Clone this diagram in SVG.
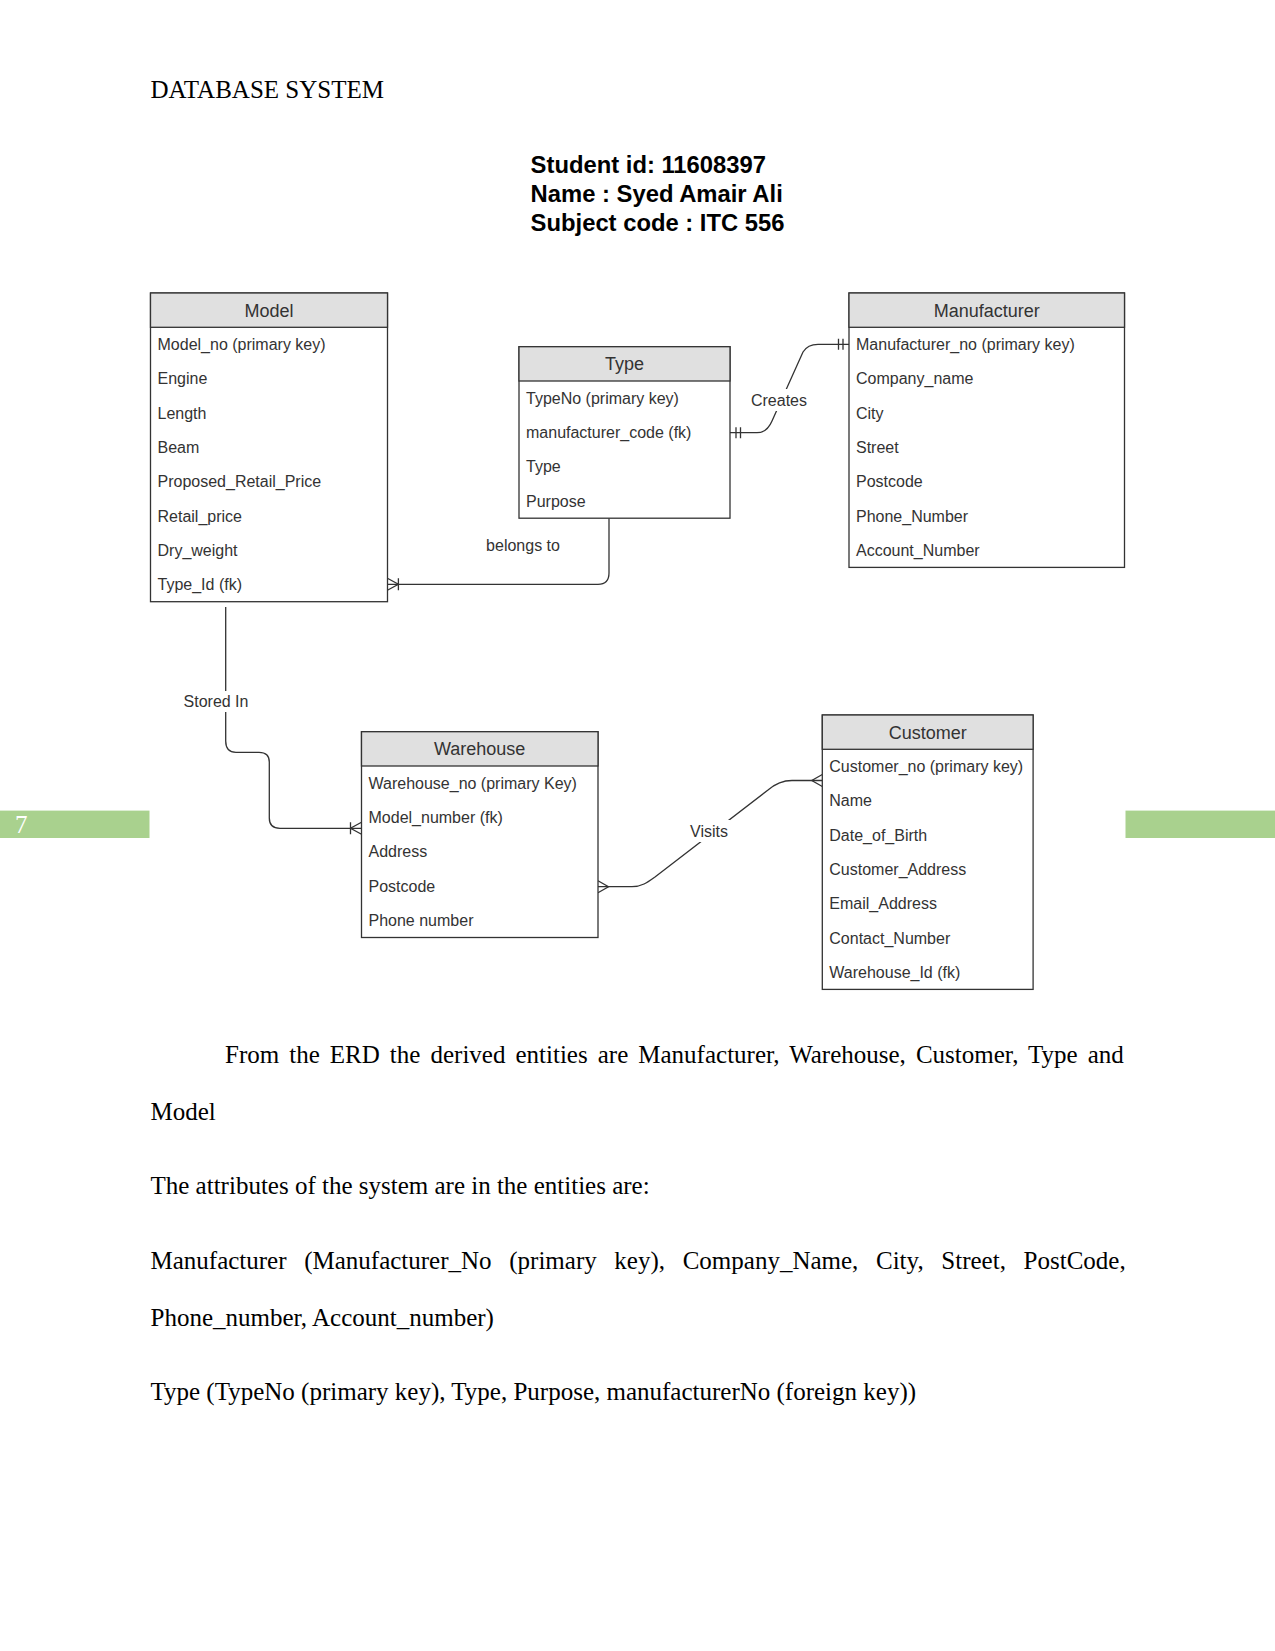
<svg xmlns="http://www.w3.org/2000/svg" width="1275" height="1651" viewBox="0 0 1275 1651">
<style>
.page{fill:#fff}
.box{fill:#fff;stroke:#333;stroke-width:1.3}
.hdr{fill:#e0e0e0;stroke:#333;stroke-width:1.3}
.ht{font-family:"Liberation Sans",Arial,sans-serif;font-size:18px;fill:#333;text-anchor:middle}
.rt{font-family:"Liberation Sans",Arial,sans-serif;font-size:16px;fill:#333}
.lbl{font-family:"Liberation Sans",Arial,sans-serif;font-size:16px;fill:#333;text-anchor:middle}
.conn{fill:none;stroke:#333;stroke-width:1.3}
.body{font-family:"Liberation Serif","Times New Roman",serif;font-size:25px;fill:#000}
.title{font-family:"Liberation Sans",Arial,sans-serif;font-size:23.8px;font-weight:bold;fill:#000}
.bar{fill:#a9d18e}
</style>
<defs>
<path id="mOne" d="M-6,-5.5V5.5M-10.5,-5.5V5.5" fill="none" stroke="#333" stroke-width="1.3"/>
<path id="mMany" d="M0,-6L-10.5,0L0,6" fill="none" stroke="#333" stroke-width="1.3"/>
<path id="mOneMany" d="M0,-6L-11,0L0,6M-11,-6V6" fill="none" stroke="#333" stroke-width="1.3"/>
</defs>
<rect class="page" x="0" y="0" width="1275" height="1651"/>

<text class="body" x="150.5" y="98">DATABASE SYSTEM</text>

<g id="title-block">
<text class="title" x="530.6" y="172.5">Student id: 11608397</text>
<text class="title" x="530.6" y="201.5">Name : Syed Amair Ali</text>
<text class="title" x="530.6" y="230.5">Subject code : ITC 556</text>
</g>

<g id="page-bars">
<rect class="bar" x="0" y="810.6" width="149.5" height="27.4"/>
<rect class="bar" x="1125.5" y="810.6" width="149.5" height="27.4"/>
<text x="15" y="833" font-family="Liberation Serif,Times New Roman,serif" font-size="25" fill="#fff">7</text>
</g>

<g id="connectors">
<g id="c-creates">
<path class="conn" d="M730,432.7H757C765,432.7 769,428 772,421L803,352C806,347 810,344.3 818,344.3H849"/>
<use href="#mOne" transform="translate(730,432.7) scale(-1,1)"/>
<use href="#mOne" transform="translate(849,344.3)"/>
<rect x="750" y="389" width="58" height="22" fill="#fff"/>
<text class="lbl" x="779" y="405.5">Creates</text>
</g>
<g id="c-belongs">
<path class="conn" d="M609,518.2V573Q609,584.3 598,584.3H387.4"/>
<use href="#mOneMany" transform="translate(387.4,584.3) scale(-1,1)"/>
<text class="lbl" x="523" y="550.5">belongs to</text>
</g>
<g id="c-stored">
<path class="conn" d="M225.7,607V741Q225.7,752.3 236,752.3H259Q269.3,752.3 269.3,762V818Q269.3,828.3 280,828.3H361.5"/>
<use href="#mOneMany" transform="translate(361.5,828.3)"/>
<rect x="183" y="691" width="66" height="21" fill="#fff"/>
<text class="lbl" x="216" y="707">Stored In</text>
</g>
<g id="c-visits">
<path class="conn" d="M598,886.7H632C642,886.7 648,882 655,877L768,790C775,784 782,780.5 792,780.5H822.3"/>
<use href="#mMany" transform="translate(598,886.7) scale(-1,1)"/>
<use href="#mMany" transform="translate(822.3,780.5)"/>
<rect x="688" y="820" width="42" height="22" fill="#fff"/>
<text class="lbl" x="709" y="836.5">Visits</text>
</g>
</g>

<g id="model">
<rect class="box" x="150.5" y="293" width="237" height="308.7"/>
<rect class="hdr" x="150.5" y="293" width="237" height="34.3"/>
<text class="ht" x="269" y="316.6">Model</text>
<text class="rt" x="157.5" y="350">Model_no (primary key)</text>
<text class="rt" x="157.5" y="384.3">Engine</text>
<text class="rt" x="157.5" y="418.6">Length</text>
<text class="rt" x="157.5" y="452.9">Beam</text>
<text class="rt" x="157.5" y="487.2">Proposed_Retail_Price</text>
<text class="rt" x="157.5" y="521.5">Retail_price</text>
<text class="rt" x="157.5" y="555.8">Dry_weight</text>
<text class="rt" x="157.5" y="590.1">Type_Id (fk)</text>
</g>

<g id="type">
<rect class="box" x="519" y="346.7" width="211" height="171.5"/>
<rect class="hdr" x="519" y="346.7" width="211" height="34.3"/>
<text class="ht" x="624.5" y="370.4">Type</text>
<text class="rt" x="526" y="403.7">TypeNo (primary key)</text>
<text class="rt" x="526" y="438">manufacturer_code (fk)</text>
<text class="rt" x="526" y="472.3">Type</text>
<text class="rt" x="526" y="506.6">Purpose</text>
</g>

<g id="manufacturer">
<rect class="box" x="849" y="293" width="275.5" height="274.4"/>
<rect class="hdr" x="849" y="293" width="275.5" height="34.3"/>
<text class="ht" x="986.7" y="316.6">Manufacturer</text>
<text class="rt" x="856" y="350">Manufacturer_no (primary key)</text>
<text class="rt" x="856" y="384.3">Company_name</text>
<text class="rt" x="856" y="418.6">City</text>
<text class="rt" x="856" y="452.9">Street</text>
<text class="rt" x="856" y="487.2">Postcode</text>
<text class="rt" x="856" y="521.5">Phone_Number</text>
<text class="rt" x="856" y="555.8">Account_Number</text>
</g>

<g id="warehouse">
<rect class="box" x="361.5" y="731.7" width="236.5" height="205.8"/>
<rect class="hdr" x="361.5" y="731.7" width="236.5" height="34.3"/>
<text class="ht" x="479.7" y="755.4">Warehouse</text>
<text class="rt" x="368.5" y="788.7">Warehouse_no (primary Key)</text>
<text class="rt" x="368.5" y="823">Model_number (fk)</text>
<text class="rt" x="368.5" y="857.3">Address</text>
<text class="rt" x="368.5" y="891.6">Postcode</text>
<text class="rt" x="368.5" y="925.9">Phone number</text>
</g>

<g id="customer">
<rect class="box" x="822.3" y="715" width="210.8" height="274.4"/>
<rect class="hdr" x="822.3" y="715" width="210.8" height="34.3"/>
<text class="ht" x="927.7" y="738.7">Customer</text>
<text class="rt" x="829.3" y="772">Customer_no (primary key)</text>
<text class="rt" x="829.3" y="806.3">Name</text>
<text class="rt" x="829.3" y="840.6">Date_of_Birth</text>
<text class="rt" x="829.3" y="874.9">Customer_Address</text>
<text class="rt" x="829.3" y="909.2">Email_Address</text>
<text class="rt" x="829.3" y="943.5">Contact_Number</text>
<text class="rt" x="829.3" y="977.8">Warehouse_Id (fk)</text>
</g>

<g id="body-text">
<text class="body" x="225" y="1062.5" word-spacing="3.8">From the ERD the derived entities are Manufacturer, Warehouse, Customer, Type and</text>
<text class="body" x="150.5" y="1119.5">Model</text>
<text class="body" x="150.5" y="1193.5">The attributes of the system are in the entities are:</text>
<text class="body" x="150.5" y="1269" word-spacing="11.4">Manufacturer (Manufacturer_No (primary key), Company_Name, City, Street, PostCode,</text>
<text class="body" x="150.5" y="1326">Phone_number, Account_number)</text>
<text class="body" x="150.5" y="1399.5">Type (TypeNo (primary key), Type, Purpose, manufacturerNo (foreign key))</text>
</g>
</svg>
